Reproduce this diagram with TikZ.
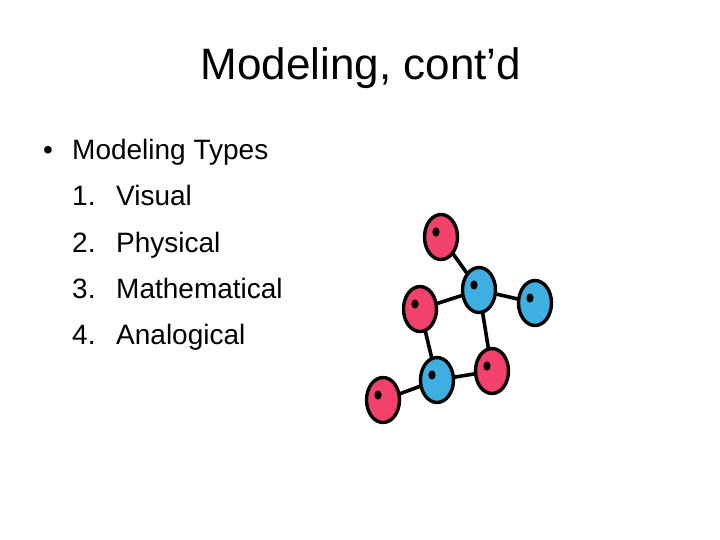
\documentclass[tikz,border=0pt]{standalone}
\usepackage{fontspec}
\setmainfont{Liberation Sans}
\usetikzlibrary{shapes.geometric,backgrounds}
\definecolor{atomred}{HTML}{F2416A}
\definecolor{atomblue}{HTML}{3FAEE0}
\begin{document}
\begin{tikzpicture}[x=1pt,y=-1pt,
    atom/.style={draw=black,line width=3.4pt,ellipse,minimum width=33pt,minimum height=45pt,inner sep=0pt},
    bond/.style={line width=3.6pt},
    item/.style={anchor=base west,inner sep=0pt,font=\fontsize{28}{32}\selectfont}]
    \useasboundingbox (0,0) rectangle (720,540);
    % Title
    \node (title) at (361,68) {\fontsize{44}{50}\selectfont Modeling, cont’d};
    % List
    \node[item] (bul) at (43,160) {•};
    \node[item] (types) at (72,160) {Modeling Types};
    \foreach \n/\t [count=\i] in {1./Visual, 2./Physical, 3./Mathematical, 4./Analogical} {
        \node[item] (num\i) at (72,160+\i*46) {\n};
        \node[item] (txt\i) at (116,160+\i*46) {\t};
    }
    % Molecule
    \node[atom,fill=atomred] (ra) at (441,237) {};
    \node[atom,fill=atomblue] (bb) at (479,290) {};
    \node[atom,fill=atomblue] (bc) at (535,303) {};
    \node[atom,fill=atomred] (rd) at (420,309) {};
    \node[atom,fill=atomblue] (be) at (437,380) {};
    \node[atom,fill=atomred] (rf) at (492,371) {};
    \node[atom,fill=atomred] (rg) at (383,400) {};
    \begin{scope}[on background layer]
    \foreach \a/\b in {ra/bb, bb/bc, bb/rd, bb/rf, rd/be, be/rf, be/rg}
        \draw[bond] (\a.center) -- (\b.center);
    \end{scope}
    % Dots
    \foreach \a in {ra,bb,bc,rd,be,rf,rg}
        \fill ([shift={(-5,-5)}]\a.center) ellipse (3.6pt and 4.6pt);
\end{tikzpicture}
\end{document}
